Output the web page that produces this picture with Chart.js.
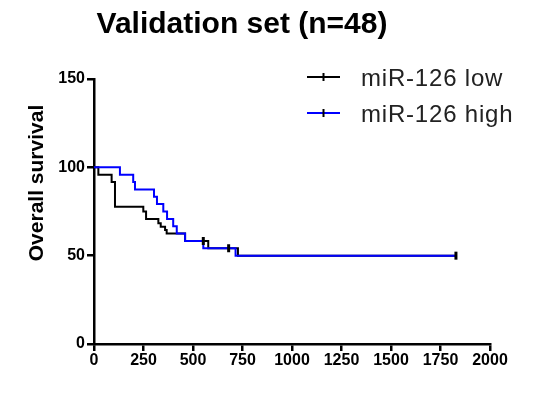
<!DOCTYPE html>
<html lang="en">
<head>
    <meta charset="UTF-8">
    <title>Validation set (n=48)</title>
    <script src="https://cdn.jsdelivr.net/npm/chart.js"></script>
    <style>
        body {
            margin: 0;
            background: #fff;
        }
        #kmChart {
            display: block;
        }
    </style>
</head>
<body>
    <canvas id="kmChart" width="535" height="412"></canvas>

    <script>
        // Kaplan-Meier steps: day of event and survival (%) after it
        const lowDays = [0, 22, 89, 106, 249, 263, 325, 337, 359, 367, 460, 577, 727, 1828];
        const lowSurvival = [100, 95.8, 91.7, 77.7, 75, 70.8, 68.3, 66.4, 64.5, 62.5, 58.3, 54.2, 50, 50];
        const lowCensorDays = [552, 680, 1828];
        const lowCensorSurvival = [58.3, 54.2, 50];

        const highDays = [0, 131, 198, 207, 303, 318, 350, 369, 400, 418, 460, 552, 715, 1828];
        const highSurvival = [100, 95.8, 91.7, 87.5, 83.3, 79.2, 75, 70.8, 66.7, 62.5, 58.3, 54.2, 50, 50];

        const groupLabels = ["miR-126 low", "miR-126 high"];
        const groupColors = ["#000000", "#0000ff"];

        const xTicks = [0, 250, 500, 750, 1000, 1250, 1500, 1750, 2000];
        const yTicks = [0, 50, 100, 150];

        const FONT = 'Arial, "Liberation Sans", sans-serif';
        Chart.defaults.font.family = FONT;

        const toPoints = (xs, ys) => xs.map((x, i) => ({ x: x, y: ys[i] }));

        // title, y axis title and the legend are painted by hand
        const decorations = {
            id: 'decorations',
            afterDraw(chart) {
                const ctx = chart.ctx;
                ctx.save();
                ctx.fillStyle = '#000';
                ctx.font = 'bold 30px ' + FONT;
                ctx.textAlign = 'center';
                ctx.textBaseline = 'alphabetic';
                ctx.fillText('Validation set (n=48)', 242, 33);

                ctx.save();
                ctx.translate(37, 183);
                ctx.rotate(-Math.PI / 2);
                ctx.font = 'bold 21px ' + FONT;
                ctx.textBaseline = 'middle';
                ctx.fillText('Overall survival', 0, 0);
                ctx.restore();

                const rows = [77, 113];
                rows.forEach((y, i) => {
                    ctx.strokeStyle = groupColors[i];
                    ctx.lineWidth = 2;
                    ctx.beginPath();
                    ctx.moveTo(307, y);
                    ctx.lineTo(340, y);
                    ctx.stroke();
                    ctx.strokeStyle = '#000';
                    ctx.beginPath();
                    ctx.moveTo(323.5, y - 4);
                    ctx.lineTo(323.5, y + 4);
                    ctx.stroke();

                    ctx.fillStyle = '#222';
                    ctx.font = '24px ' + FONT;
                    ctx.textAlign = 'left';
                    ctx.letterSpacing = '0.8px';
                    ctx.fillText(groupLabels[i], 361, y + 9);
                });
                ctx.restore();
            }
        };

        new Chart(document.getElementById('kmChart'), {
            type: 'scatter',
            data: {
                datasets: [
                    {
                        // censored subjects, drawn on top
                        label: groupLabels[0] + ' censored',
                        data: toPoints(lowCensorDays, lowCensorSurvival),
                        showLine: false,
                        pointStyle: 'line',
                        rotation: 90,
                        pointRadius: 4,
                        borderColor: '#000',
                        borderWidth: 3
                    },
                    {
                        label: groupLabels[1],
                        data: toPoints(highDays, highSurvival),
                        showLine: true,
                        stepped: true,
                        borderColor: groupColors[1],
                        borderWidth: 2,
                        pointRadius: 0
                    },
                    {
                        label: groupLabels[0],
                        data: toPoints(lowDays, lowSurvival),
                        showLine: true,
                        stepped: true,
                        borderColor: groupColors[0],
                        borderWidth: 2,
                        pointRadius: 0
                    }
                ]
            },
            options: {
                responsive: false,
                animation: false,
                layout: {
                    padding: { top: 79, right: 45, left: 0, bottom: 0 }
                },
                plugins: {
                    legend: { display: false },
                    tooltip: { enabled: false }
                },
                scales: {
                    x: {
                        type: 'linear',
                        min: 0,
                        max: 2000,
                        afterFit: scale => { scale.height = 68; },
                        afterBuildTicks: scale => { scale.ticks = xTicks.map(v => ({ value: v })); },
                        border: { color: '#000', width: 2.5 },
                        grid: {
                            drawOnChartArea: false,
                            color: '#000',
                            lineWidth: 2.5,
                            tickLength: 7
                        },
                        ticks: {
                            color: '#000',
                            padding: 0,
                            maxRotation: 0,
                            autoSkip: false,
                            callback: v => String(v),
                            font: { size: 16, weight: 'bold' }
                        }
                    },
                    y: {
                        min: 0,
                        max: 150,
                        afterFit: scale => { scale.width = 94; },
                        afterBuildTicks: scale => { scale.ticks = yTicks.map(v => ({ value: v })); },
                        border: { color: '#000', width: 2.5 },
                        grid: {
                            drawOnChartArea: false,
                            color: '#000',
                            lineWidth: 2.5,
                            tickLength: 7
                        },
                        ticks: {
                            color: '#000',
                            padding: 2,
                            callback: v => String(v),
                            font: { size: 16, weight: 'bold' }
                        }
                    }
                }
            },
            plugins: [decorations]
        });
    </script>
</body>
</html>
